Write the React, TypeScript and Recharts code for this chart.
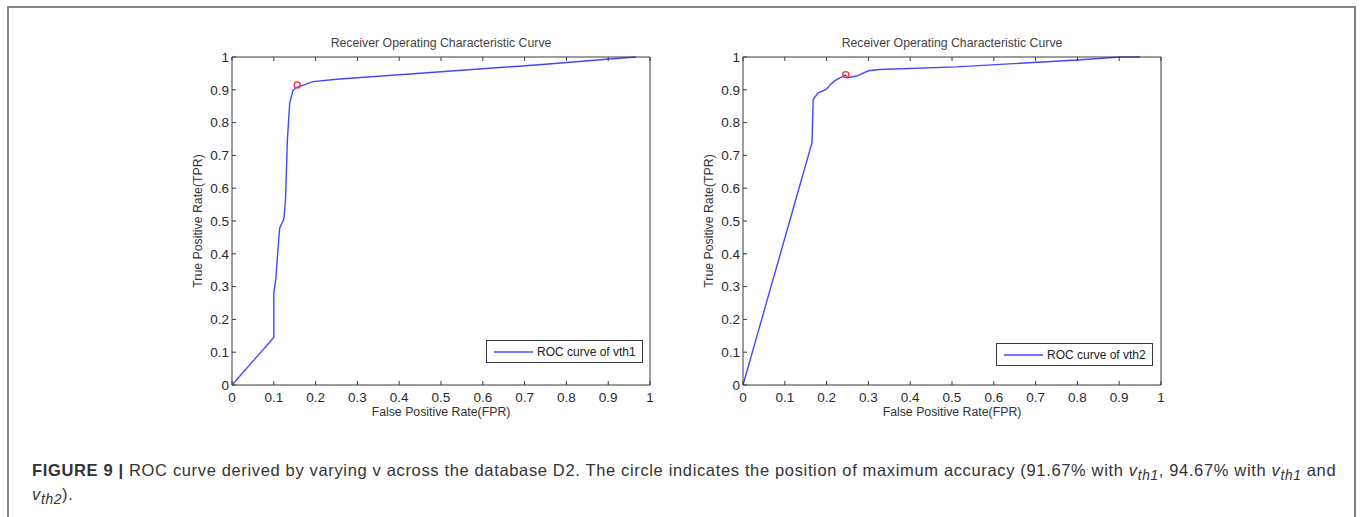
import {
  LineChart,
  Line,
  XAxis,
  YAxis,
  ReferenceDot,
  Legend,
} from 'recharts';

// ROC points
const fpr1 = [0, 0.1, 0.1, 0.105, 0.108, 0.114, 0.124, 0.128, 0.1325, 0.138, 0.146, 0.154, 0.194, 0.25, 0.5, 0.75, 0.896, 0.967];
const tpr1 = [0, 0.145, 0.28, 0.325, 0.38, 0.478, 0.506, 0.564, 0.747, 0.859, 0.899, 0.907, 0.925, 0.932, 0.955, 0.978, 0.993, 1.0];

const fpr2 = [0, 0.126, 0.16, 0.165, 0.168, 0.18, 0.2, 0.208, 0.22, 0.24, 0.245, 0.25, 0.272, 0.3, 0.327, 0.511, 0.799, 0.902, 0.95];
const tpr2 = [0, 0.564, 0.716, 0.737, 0.871, 0.891, 0.902, 0.915, 0.928, 0.942, 0.945, 0.937, 0.942, 0.958, 0.962, 0.97, 0.991, 1.0, 1.0];

// max accuracy markers
const best1 = { x: 0.156, y: 0.915 };
const best2 = { x: 0.246, y: 0.946 };

const ticks = [0, 0.1, 0.2, 0.3, 0.4, 0.5, 0.6, 0.7, 0.8, 0.9, 1];

const TITLE = 'Receiver Operating Characteristic Curve';
const X_LABEL = 'False Positive Rate(FPR)';
const Y_LABEL = 'True Positive Rate(TPR)';

const BLUE = '#4646ff';
const AXIS = '#3a3a3a';
const FONT = '"Liberation Sans", Arial, sans-serif';

interface PanelProps {
  left: number;
  fpr: number[];
  tpr: number[];
  best: { x: number; y: number };
  name: string;
  legendLeft: number;
  legendTop: number;
}

function RocPanel({ left, fpr, tpr, best, name, legendLeft, legendTop }: PanelProps) {
  const data = fpr.map((x, i) => ({ x, y: tpr[i] }));
  const tickStyle = { fill: '#2a2a2a', fontSize: 13.5, fontFamily: FONT };
  const labelStyle = { fill: '#333', fontSize: 12.3, fontFamily: FONT };

  return (
    <div style={{ position: 'absolute', left, top: 24 }}>
      <LineChart width={510} height={420} data={data} margin={{ top: 5, right: 10, bottom: 5, left: 4 }}>
        <XAxis
          xAxisId="b"
          dataKey="x"
          type="number"
          domain={[0, 1]}
          ticks={ticks}
          interval={0}
          height={54}
          tickSize={-4}
          tickMargin={11}
          tick={tickStyle}
          axisLine={{ stroke: AXIS }}
          tickLine={{ stroke: AXIS }}
          label={{ value: X_LABEL, position: 'center', style: labelStyle }}
        />
        <XAxis
          xAxisId="t"
          orientation="top"
          dataKey="x"
          type="number"
          domain={[0, 1]}
          ticks={ticks}
          interval={0}
          height={28}
          tickSize={-4}
          tickFormatter={() => ''}
          axisLine={{ stroke: AXIS }}
          tickLine={{ stroke: AXIS }}
          label={{ value: TITLE, position: 'center', style: { ...labelStyle, fill: '#444' } }}
        />
        <YAxis
          yAxisId="l"
          type="number"
          domain={[0, 1]}
          ticks={ticks}
          interval={0}
          width={68}
          tickSize={-4}
          tickMargin={7}
          tick={tickStyle}
          axisLine={{ stroke: AXIS }}
          tickLine={{ stroke: AXIS }}
          label={{ value: Y_LABEL, angle: -90, position: 'center', style: labelStyle }}
        />
        <YAxis
          yAxisId="r"
          orientation="right"
          type="number"
          domain={[0, 1]}
          ticks={ticks}
          interval={0}
          width={10}
          tickSize={-4}
          tickFormatter={() => ''}
          axisLine={{ stroke: AXIS }}
          tickLine={{ stroke: AXIS }}
        />
        <Line
          xAxisId="b"
          yAxisId="l"
          type="linear"
          dataKey="y"
          stroke={BLUE}
          strokeWidth={1.4}
          dot={false}
          name={name}
          isAnimationActive={false}
        />
        <ReferenceDot
          xAxisId="b"
          yAxisId="l"
          x={best.x}
          y={best.y}
          r={3}
          fill="none"
          stroke="#ff2a2a"
          strokeWidth={1.3}
        />
        <Legend
          layout="vertical"
          align="center"
          verticalAlign="middle"
          wrapperStyle={{ left: legendLeft, top: legendTop, width: 'auto' }}
          content={() => (
            <div
              style={{
                border: `1px solid ${AXIS}`,
                background: '#fff',
                height: 21,
                display: 'flex',
                alignItems: 'center',
                padding: '0 6px 0 7px',
                fontFamily: FONT,
                fontSize: 12,
                color: '#222',
                whiteSpace: 'nowrap',
              }}
            >
              <svg width={40} height={4} style={{ marginRight: 3 }}>
                <line x1={0} y1={2} x2={39} y2={2} stroke={BLUE} strokeWidth={1.4} />
              </svg>
              {name}
            </div>
          )}
        />
      </LineChart>
    </div>
  );
}

export default function App() {
  return (
    <div
      style={{
        position: 'absolute',
        left: 0,
        top: 0,
        width: 1360,
        height: 517,
        overflow: 'hidden',
        background: '#fff',
        fontFamily: FONT,
      }}
    >
      <div
        style={{
          position: 'absolute',
          left: 7,
          top: 6,
          width: 1345,
          height: 540,
          border: '2px solid #858585',
          borderBottom: 'none',
        }}
      />
      <RocPanel left={160} fpr={fpr1} tpr={tpr1} best={best1} name="ROC curve of vth1" legendLeft={326} legendTop={316} />
      <RocPanel left={671} fpr={fpr2} tpr={tpr2} best={best2} name="ROC curve of vth2" legendLeft={325} legendTop={319} />
      <div
        style={{
          position: 'absolute',
          left: 32,
          top: 461,
          fontSize: 16.5,
          letterSpacing: 0.65,
          lineHeight: '19px',
          color: '#333',
          whiteSpace: 'nowrap',
        }}
      >
        <div>
          <b>FIGURE 9 |</b> ROC curve derived by varying v across the database D2. The circle indicates the position of
          maximum accuracy (91.67% with <i>v<sub>th1</sub></i>, 94.67% with <i>v<sub>th1</sub></i> and
        </div>
        <div>
          <i>v<sub>th2</sub></i>).
        </div>
      </div>
    </div>
  );
}
